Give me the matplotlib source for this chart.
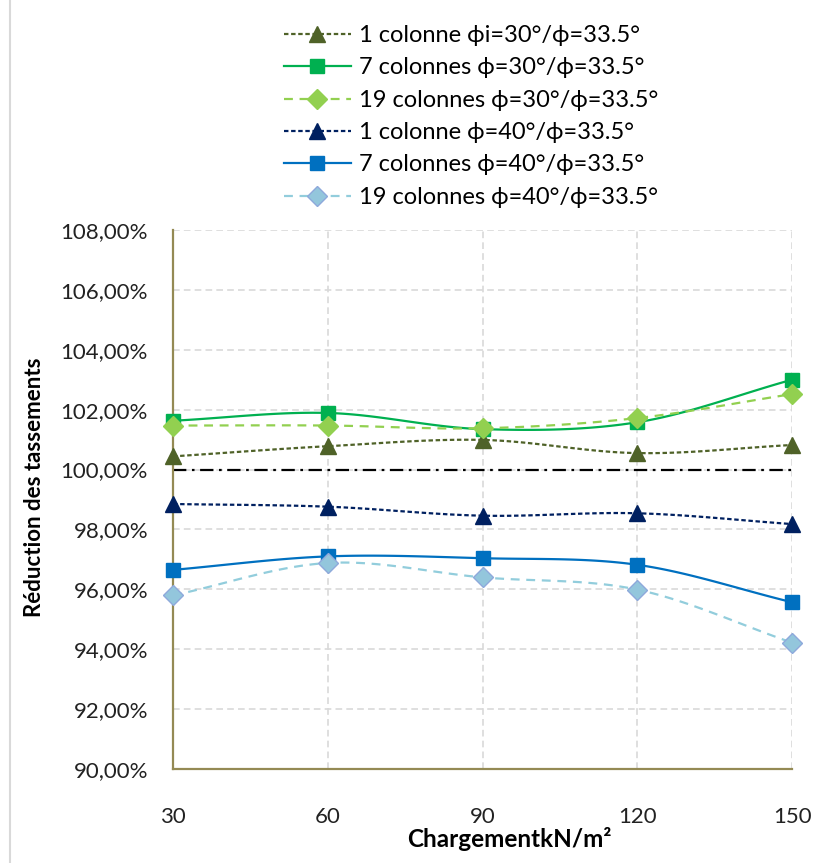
import numpy as np
import matplotlib
matplotlib.use("Agg")
import matplotlib.pyplot as plt
from matplotlib.ticker import FuncFormatter
from matplotlib.lines import Line2D

plt.rcParams['font.family'] = ['Lato', 'DejaVu Sans']

# Loading levels (kN/m²)
charges = [30, 60, 90, 120, 150]

# Settlement reduction ratios (%)
un_col_30 = [100.44, 100.78, 100.99, 100.55, 100.82]
sept_col_30 = [101.63, 101.89, 101.35, 101.58, 103.00]
dixneuf_col_30 = [101.47, 101.47, 101.38, 101.72, 102.52]
un_col_40 = [98.85, 98.76, 98.46, 98.54, 98.18]
sept_col_40 = [96.65, 97.10, 97.04, 96.82, 95.57]
dixneuf_col_40 = [95.80, 96.88, 96.40, 95.99, 94.22]
reference = [100, 100, 100, 100, 100]

labels = [
    "1 colonne \u03d5i=30°/\u03d5=33.5°",
    "7 colonnes \u03d5=30°/\u03d5=33.5°",
    "19 colonnes \u03d5=30°/\u03d5=33.5°",
    "1 colonne \u03d5=40°/\u03d5=33.5°",
    "7 colonnes \u03d5=40°/\u03d5=33.5°",
    "19 colonnes \u03d5=40°/\u03d5=33.5°",
]

y_ticks = [90, 92, 94, 96, 98, 100, 102, 104, 106, 108]


def smooth(x, y, n=30):
    """Catmull-Rom style smoothed curve through the points."""
    x = np.asarray(x, float)
    y = np.asarray(y, float)
    m = np.zeros_like(y)
    m[1:-1] = (y[2:] - y[:-2]) / (x[2:] - x[:-2])
    m[0] = (y[1] - y[0]) / (x[1] - x[0])
    m[-1] = (y[-1] - y[-2]) / (x[-1] - x[-2])
    xs, ys = [], []
    for i in range(len(x) - 1):
        h = x[i + 1] - x[i]
        t = np.linspace(0, 1, n, endpoint=(i == len(x) - 2))
        h00 = 2 * t**3 - 3 * t**2 + 1
        h10 = t**3 - 2 * t**2 + t
        h01 = -2 * t**3 + 3 * t**2
        h11 = t**3 - t**2
        xs.append(x[i] + t * h)
        ys.append(h00 * y[i] + h10 * h * m[i] + h01 * y[i + 1] + h11 * h * m[i + 1])
    return np.concatenate(xs), np.concatenate(ys)


fig = plt.figure(figsize=(8.27, 8.63), dpi=100)
ax = fig.add_axes([0.2092, 0.1089, 0.7485, 0.6246])

styles = [
    dict(y=un_col_30, color="#4F6228", ls=(0, (2.0, 1.2)), marker="^", ms=11,
         mfc="#4F6228", mec="#4F6228"),
    dict(y=sept_col_30, color="#00B050", ls="-", marker="s", ms=10.5,
         mfc="#00B050", mec="#00B050"),
    dict(y=dixneuf_col_30, color="#92D050", ls=(0, (4, 3)), marker="D", ms=10.5,
         mfc="#92D050", mec="#92D050"),
    dict(y=un_col_40, color="#002060", ls=(0, (2.0, 1.2)), marker="^", ms=11,
         mfc="#002060", mec="#002060"),
    dict(y=sept_col_40, color="#0070C0", ls="-", marker="s", ms=10.5,
         mfc="#0070C0", mec="#0070C0"),
    dict(y=dixneuf_col_40, color="#92CDDC", ls=(0, (4, 3)), marker="D", ms=10.5,
         mfc="#93C6DC", mec="#8EA9DB"),
]

handles = []
for st, lab in zip(styles, labels):
    sx, sy = smooth(charges, st["y"])
    ax.plot(sx, sy, color=st["color"], ls=st["ls"], lw=1.6, zorder=3, clip_on=False)
    ax.plot(charges, st["y"], ls="none", marker=st["marker"], ms=st["ms"],
            mfc=st["mfc"], mec=st["mec"], mew=1.0, zorder=4, clip_on=False)
    handles.append(Line2D([], [], color=st["color"], ls=st["ls"], lw=1.6,
                          marker=st["marker"], ms=st["ms"], mfc=st["mfc"],
                          mec=st["mec"], mew=1.0))

# 100 % reference line
ax.plot(charges, reference, color="black", lw=1.6,
        ls=(0, (6, 2.5, 1.2, 2.5)), zorder=2)

ax.set_xlim(30, 150)
ax.set_ylim(90, 108)
ax.set_xticks(charges)
ax.set_xticklabels([str(c) for c in charges])
ax.set_yticks(y_ticks)
ax.yaxis.set_major_formatter(FuncFormatter(lambda v, p: f"{v:.2f}".replace(".", ",") + "%"))
ax.tick_params(axis="both", length=0, labelsize=16, labelcolor="#222222")
ax.tick_params(axis="x", pad=27)
ax.tick_params(axis="y", pad=18)

ax.grid(True, color="#D9D9D9", ls=(0, (4, 2.5)), lw=1.2, zorder=0)
for s in ("top", "right"):
    ax.spines[s].set_visible(False)
for s in ("left", "bottom"):
    ax.spines[s].set_color("#948A54")
    ax.spines[s].set_linewidth(1.6)
    ax.spines[s].set_zorder(2.5)

ax.set_xlabel("ChargementkN/m²", fontsize=17.5, fontweight="bold", labelpad=0)
ax.set_ylabel("Réduction des tassements", fontsize=16, fontweight="bold", labelpad=11)
ax.xaxis.label.set_x(0.544)
ax.yaxis.label.set_y(0.523)

fig.legend(handles, labels, loc="upper left", bbox_to_anchor=(0.323, 0.99),
           frameon=False, fontsize=17, handlelength=2.85, handletextpad=0.35,
           labelspacing=0.48, borderpad=0.2)

# thin chart frame line on the left
fig.add_artist(Line2D([0.012, 0.012], [0.0, 1.0], transform=fig.transFigure,
                      color="#D9D9D9", lw=1.5))

fig.savefig("out.png", dpi=100)
